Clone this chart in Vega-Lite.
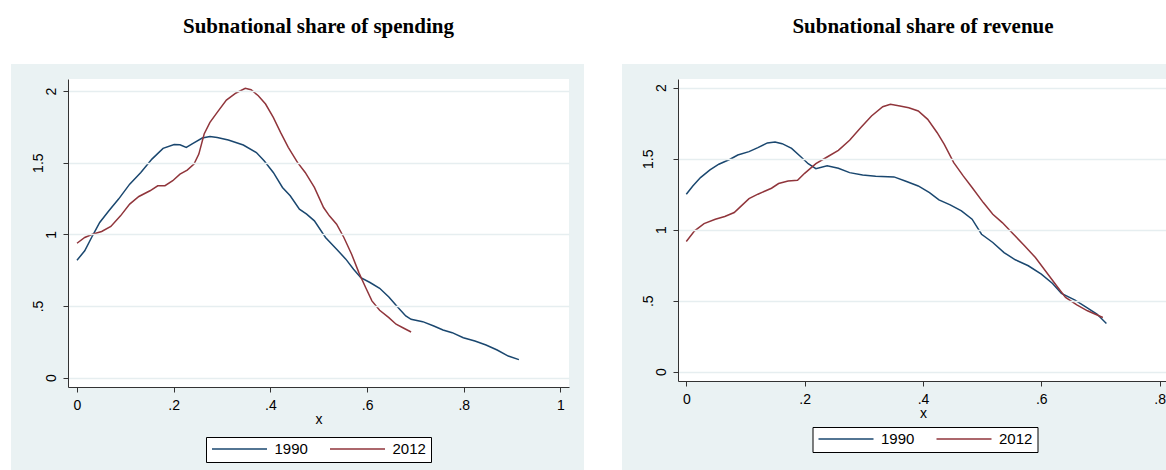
{
  "$schema": "https://vega.github.io/schema/vega-lite/v6.json",
  "padding": {"left": 10, "top": 15, "right": 0, "bottom": 0},
  "background": "white",
  "spacing": 37,
  "config": {
    "view": {"stroke": null},
    "font": "Liberation Sans",
    "title": {"font": "Liberation Serif", "fontSize": 21, "fontWeight": "bold", "color": "black", "offset": 27},
    "axis": {
      "labelFont": "Liberation Sans", "labelFontSize": 14, "labelColor": "black",
      "tickColor": "#333", "domainColor": "#333", "tickSize": 5, "tickWidth": 1, "domainWidth": 1,
      "titleFont": "Liberation Sans", "titleFontWeight": "normal", "titleFontSize": 14,
      "titleColor": "black"
    },
    "legend": {
      "orient": "none", "direction": "horizontal", "symbolType": "stroke", "symbolSize": 3025,
      "symbolStrokeWidth": 1.5, "clipHeight": 14, "labelFontSize": 15, "labelFont": "Liberation Sans",
      "labelColor": "black", "labelOffset": 6.5, "columnPadding": 21, "padding": 5,
      "strokeColor": "black", "fillColor": "white", "strokeWidth": 1
    }
  },
  "datasets": {
    "spend": [
      {"year":"1990","x":0,"y":0.82},{"year":"1990","x":0.016,"y":0.885},{"year":"1990","x":0.032,"y":0.99},{"year":"1990","x":0.047,"y":1.083},{"year":"1990","x":0.066,"y":1.164},{"year":"1990","x":0.086,"y":1.246},{"year":"1990","x":0.109,"y":1.35},{"year":"1990","x":0.132,"y":1.432},{"year":"1990","x":0.155,"y":1.525},{"year":"1990","x":0.178,"y":1.6},{"year":"1990","x":0.201,"y":1.627},{"year":"1990","x":0.213,"y":1.625},{"year":"1990","x":0.226,"y":1.607},{"year":"1990","x":0.24,"y":1.634},{"year":"1990","x":0.259,"y":1.672},{"year":"1990","x":0.275,"y":1.683},{"year":"1990","x":0.29,"y":1.676},{"year":"1990","x":0.313,"y":1.658},{"year":"1990","x":0.344,"y":1.623},{"year":"1990","x":0.371,"y":1.571},{"year":"1990","x":0.387,"y":1.513},{"year":"1990","x":0.406,"y":1.432},{"year":"1990","x":0.425,"y":1.327},{"year":"1990","x":0.441,"y":1.269},{"year":"1990","x":0.46,"y":1.176},{"year":"1990","x":0.475,"y":1.141},{"year":"1990","x":0.491,"y":1.094},{"year":"1990","x":0.514,"y":0.978},{"year":"1990","x":0.537,"y":0.896},{"year":"1990","x":0.556,"y":0.827},{"year":"1990","x":0.572,"y":0.757},{"year":"1990","x":0.587,"y":0.698},{"year":"1990","x":0.606,"y":0.664},{"year":"1990","x":0.626,"y":0.624},{"year":"1990","x":0.645,"y":0.563},{"year":"1990","x":0.664,"y":0.489},{"year":"1990","x":0.68,"y":0.431},{"year":"1990","x":0.691,"y":0.407},{"year":"1990","x":0.715,"y":0.391},{"year":"1990","x":0.738,"y":0.361},{"year":"1990","x":0.757,"y":0.333},{"year":"1990","x":0.776,"y":0.314},{"year":"1990","x":0.799,"y":0.279},{"year":"1990","x":0.823,"y":0.256},{"year":"1990","x":0.846,"y":0.228},{"year":"1990","x":0.869,"y":0.193},{"year":"1990","x":0.892,"y":0.151},{"year":"1990","x":0.914,"y":0.126},
      {"year":"2012","x":0,"y":0.938},{"year":"2012","x":0.016,"y":0.978},{"year":"2012","x":0.032,"y":1.001},{"year":"2012","x":0.051,"y":1.02},{"year":"2012","x":0.07,"y":1.055},{"year":"2012","x":0.09,"y":1.129},{"year":"2012","x":0.109,"y":1.211},{"year":"2012","x":0.128,"y":1.264},{"year":"2012","x":0.151,"y":1.304},{"year":"2012","x":0.167,"y":1.339},{"year":"2012","x":0.182,"y":1.339},{"year":"2012","x":0.198,"y":1.374},{"year":"2012","x":0.213,"y":1.42},{"year":"2012","x":0.228,"y":1.448},{"year":"2012","x":0.242,"y":1.49},{"year":"2012","x":0.252,"y":1.56},{"year":"2012","x":0.263,"y":1.7},{"year":"2012","x":0.275,"y":1.781},{"year":"2012","x":0.29,"y":1.851},{"year":"2012","x":0.309,"y":1.937},{"year":"2012","x":0.329,"y":1.986},{"year":"2012","x":0.348,"y":2.019},{"year":"2012","x":0.36,"y":2.009},{"year":"2012","x":0.375,"y":1.967},{"year":"2012","x":0.39,"y":1.909},{"year":"2012","x":0.406,"y":1.816},{"year":"2012","x":0.421,"y":1.711},{"year":"2012","x":0.437,"y":1.607},{"year":"2012","x":0.456,"y":1.502},{"year":"2012","x":0.472,"y":1.432},{"year":"2012","x":0.491,"y":1.327},{"year":"2012","x":0.51,"y":1.187},{"year":"2012","x":0.522,"y":1.129},{"year":"2012","x":0.537,"y":1.071},{"year":"2012","x":0.552,"y":0.978},{"year":"2012","x":0.568,"y":0.861},{"year":"2012","x":0.583,"y":0.733},{"year":"2012","x":0.597,"y":0.629},{"year":"2012","x":0.61,"y":0.536},{"year":"2012","x":0.626,"y":0.47},{"year":"2012","x":0.645,"y":0.419},{"year":"2012","x":0.66,"y":0.373},{"year":"2012","x":0.676,"y":0.345},{"year":"2012","x":0.691,"y":0.319}
    ],
    "rev": [
      {"year":"1990","x":0,"y":1.25},{"year":"1990","x":0.011,"y":1.308},{"year":"1990","x":0.024,"y":1.367},{"year":"1990","x":0.04,"y":1.421},{"year":"1990","x":0.055,"y":1.461},{"year":"1990","x":0.074,"y":1.496},{"year":"1990","x":0.087,"y":1.526},{"year":"1990","x":0.106,"y":1.55},{"year":"1990","x":0.121,"y":1.578},{"year":"1990","x":0.137,"y":1.611},{"year":"1990","x":0.15,"y":1.618},{"year":"1990","x":0.162,"y":1.606},{"year":"1990","x":0.178,"y":1.573},{"year":"1990","x":0.194,"y":1.512},{"year":"1990","x":0.206,"y":1.465},{"year":"1990","x":0.219,"y":1.43},{"year":"1990","x":0.238,"y":1.451},{"year":"1990","x":0.257,"y":1.433},{"year":"1990","x":0.276,"y":1.402},{"year":"1990","x":0.298,"y":1.386},{"year":"1990","x":0.32,"y":1.376},{"year":"1990","x":0.351,"y":1.372},{"year":"1990","x":0.37,"y":1.343},{"year":"1990","x":0.392,"y":1.308},{"year":"1990","x":0.411,"y":1.261},{"year":"1990","x":0.427,"y":1.21},{"year":"1990","x":0.446,"y":1.175},{"year":"1990","x":0.465,"y":1.132},{"year":"1990","x":0.483,"y":1.074},{"year":"1990","x":0.499,"y":0.968},{"year":"1990","x":0.518,"y":0.91},{"year":"1990","x":0.537,"y":0.839},{"year":"1990","x":0.556,"y":0.788},{"year":"1990","x":0.578,"y":0.746},{"year":"1990","x":0.6,"y":0.687},{"year":"1990","x":0.619,"y":0.621},{"year":"1990","x":0.634,"y":0.551},{"year":"1990","x":0.657,"y":0.504},{"year":"1990","x":0.675,"y":0.457},{"year":"1990","x":0.694,"y":0.406},{"year":"1990","x":0.71,"y":0.34},
      {"year":"2012","x":0,"y":0.917},{"year":"2012","x":0.014,"y":0.992},{"year":"2012","x":0.03,"y":1.043},{"year":"2012","x":0.049,"y":1.074},{"year":"2012","x":0.065,"y":1.093},{"year":"2012","x":0.081,"y":1.121},{"year":"2012","x":0.093,"y":1.168},{"year":"2012","x":0.106,"y":1.219},{"year":"2012","x":0.121,"y":1.25},{"year":"2012","x":0.144,"y":1.292},{"year":"2012","x":0.156,"y":1.325},{"year":"2012","x":0.172,"y":1.343},{"year":"2012","x":0.188,"y":1.348},{"year":"2012","x":0.2,"y":1.397},{"year":"2012","x":0.219,"y":1.465},{"year":"2012","x":0.238,"y":1.512},{"year":"2012","x":0.257,"y":1.559},{"year":"2012","x":0.276,"y":1.63},{"year":"2012","x":0.295,"y":1.719},{"year":"2012","x":0.313,"y":1.801},{"year":"2012","x":0.332,"y":1.866},{"year":"2012","x":0.345,"y":1.883},{"year":"2012","x":0.361,"y":1.871},{"year":"2012","x":0.376,"y":1.859},{"year":"2012","x":0.392,"y":1.836},{"year":"2012","x":0.408,"y":1.777},{"year":"2012","x":0.424,"y":1.683},{"year":"2012","x":0.436,"y":1.601},{"year":"2012","x":0.452,"y":1.472},{"year":"2012","x":0.468,"y":1.379},{"year":"2012","x":0.483,"y":1.297},{"year":"2012","x":0.502,"y":1.191},{"year":"2012","x":0.518,"y":1.109},{"year":"2012","x":0.534,"y":1.05},{"year":"2012","x":0.553,"y":0.968},{"year":"2012","x":0.572,"y":0.886},{"year":"2012","x":0.59,"y":0.804},{"year":"2012","x":0.609,"y":0.699},{"year":"2012","x":0.628,"y":0.593},{"year":"2012","x":0.641,"y":0.523},{"year":"2012","x":0.66,"y":0.471},{"year":"2012","x":0.678,"y":0.429},{"year":"2012","x":0.704,"y":0.382}
    ]
  },
  "hconcat": [
    {
      "title": "Subnational share of spending",
      "width": 501,
      "height": 308,
      "resolve": {"axis": {"y": "independent"}},
      "layer": [
        {
          "data": {"values": [{}]},
          "mark": {"type": "rect", "fill": "#eaf2f3", "clip": false},
          "encoding": {
            "x": {"datum": -0.1365, "type": "quantitative"},
            "x2": {"datum": 1.0486},
            "y": {"datum": -0.651, "type": "quantitative", "axis": null},
            "y2": {"datum": 2.188}
          }
        },
        {
          "data": {"values": [{}]},
          "mark": {"type": "rect", "fill": "white"},
          "encoding": {
            "x": {"datum": -0.0186, "type": "quantitative"},
            "x2": {"datum": 1.0176},
            "y": {
              "datum": -0.0649, "type": "quantitative",
              "axis": {
                "orient": "left", "values": [0.5, 1.5], "title": null, "domain": false, "grid": false,
                "tickOpacity": 0, "labelAngle": -90, "labelAlign": "center", "labelBaseline": "alphabetic",
                "labelPadding": 21, "zindex": 1,
                "labelExpr": "replace(format(datum.value, '~g'), '0.', '.')"
              }
            },
            "y2": {"datum": 2.0837}
          }
        },
        {
          "data": {"name": "spend"},
          "mark": {"type": "line", "strokeWidth": 1.5},
          "encoding": {
            "x": {
              "field": "x", "type": "quantitative",
              "scale": {"domain": [-0.0186, 1.0176], "nice": false, "zero": false},
              "axis": {"values": [0, 0.2, 0.4, 0.6, 0.8, 1], "title": "x", "grid": false, "labelPadding": 6, "titlePadding": 0, "zindex": 1,
                "labelExpr": "replace(format(datum.value, '~g'), '0.', '.')"}
            },
            "y": {
              "field": "y", "type": "quantitative",
              "scale": {"domain": [-0.0649, 2.0837], "nice": false, "zero": false},
              "axis": {
                "orient": "left", "values": [0, 0.5, 1, 1.5, 2], "title": null, "labelAngle": -90, "labelAlign": "center",
                "labelBaseline": "alphabetic", "zindex": 1, "labelPadding": 8,
                "labelExpr": "datum.value == 0.5 || datum.value == 1.5 ? '' : format(datum.value, '~g')",
                "grid": true, "gridColor": "#e6eef0", "gridWidth": 1.5
              }
            },
            "color": {
              "field": "year", "type": "nominal",
              "scale": {"domain": ["1990", "2012"], "range": ["#1a476f", "#90353b"]},
              "legend": {"title": null, "legendX": 138, "legendY": 358}
            }
          }
        }
      ]
    },
    {
      "title": "Subnational share of revenue",
      "width": 490,
      "height": 302,
      "resolve": {"axis": {"y": "independent"}},
      "layer": [
        {
          "data": {"values": [{}]},
          "mark": {"type": "rect", "fill": "#eaf2f3", "clip": false},
          "encoding": {
            "x": {"datum": -0.1087, "type": "quantitative"},
            "x2": {"datum": 0.8141},
            "y": {"datum": -0.699, "type": "quantitative", "axis": null},
            "y2": {"datum": 2.167}
          }
        },
        {
          "data": {"values": [{}]},
          "mark": {"type": "rect", "fill": "white"},
          "encoding": {
            "x": {"datum": -0.01403, "type": "quantitative"},
            "x2": {"datum": 0.8141},
            "y": {
              "datum": -0.0655, "type": "quantitative",
              "axis": {
                "orient": "left", "values": [0.5, 1.5], "title": null, "domain": false, "grid": false,
                "tickOpacity": 0, "labelAngle": -90, "labelAlign": "center", "labelBaseline": "alphabetic",
                "labelPadding": 21, "zindex": 1,
                "labelExpr": "replace(format(datum.value, '~g'), '0.', '.')"
              }
            },
            "y2": {"datum": 2.0613}
          }
        },
        {
          "data": {"name": "rev"},
          "mark": {"type": "line", "strokeWidth": 1.5},
          "encoding": {
            "x": {
              "field": "x", "type": "quantitative",
              "scale": {"domain": [-0.01403, 0.8141], "nice": false, "zero": false},
              "axis": {"values": [0, 0.2, 0.4, 0.6, 0.8], "title": "x", "grid": false, "labelPadding": 6, "titlePadding": 0, "zindex": 1,
                "labelExpr": "replace(format(datum.value, '~g'), '0.', '.')"}
            },
            "y": {
              "field": "y", "type": "quantitative",
              "scale": {"domain": [-0.0655, 2.0613], "nice": false, "zero": false},
              "axis": {
                "orient": "left", "values": [0, 0.5, 1, 1.5, 2], "title": null, "labelAngle": -90, "labelAlign": "center",
                "labelBaseline": "alphabetic", "zindex": 1, "labelPadding": 8,
                "labelExpr": "datum.value == 0.5 || datum.value == 1.5 ? '' : format(datum.value, '~g')",
                "grid": true, "gridColor": "#e6eef0", "gridWidth": 1.5
              }
            },
            "color": {
              "field": "year", "type": "nominal",
              "scale": {"domain": ["1990", "2012"], "range": ["#1a476f", "#90353b"]},
              "legend": {"title": null, "legendX": 134.5, "legendY": 348}
            }
          }
        }
      ]
    }
  ],
  "resolve": {"scale": {"color": "independent"}, "legend": {"color": "independent"}}
}
